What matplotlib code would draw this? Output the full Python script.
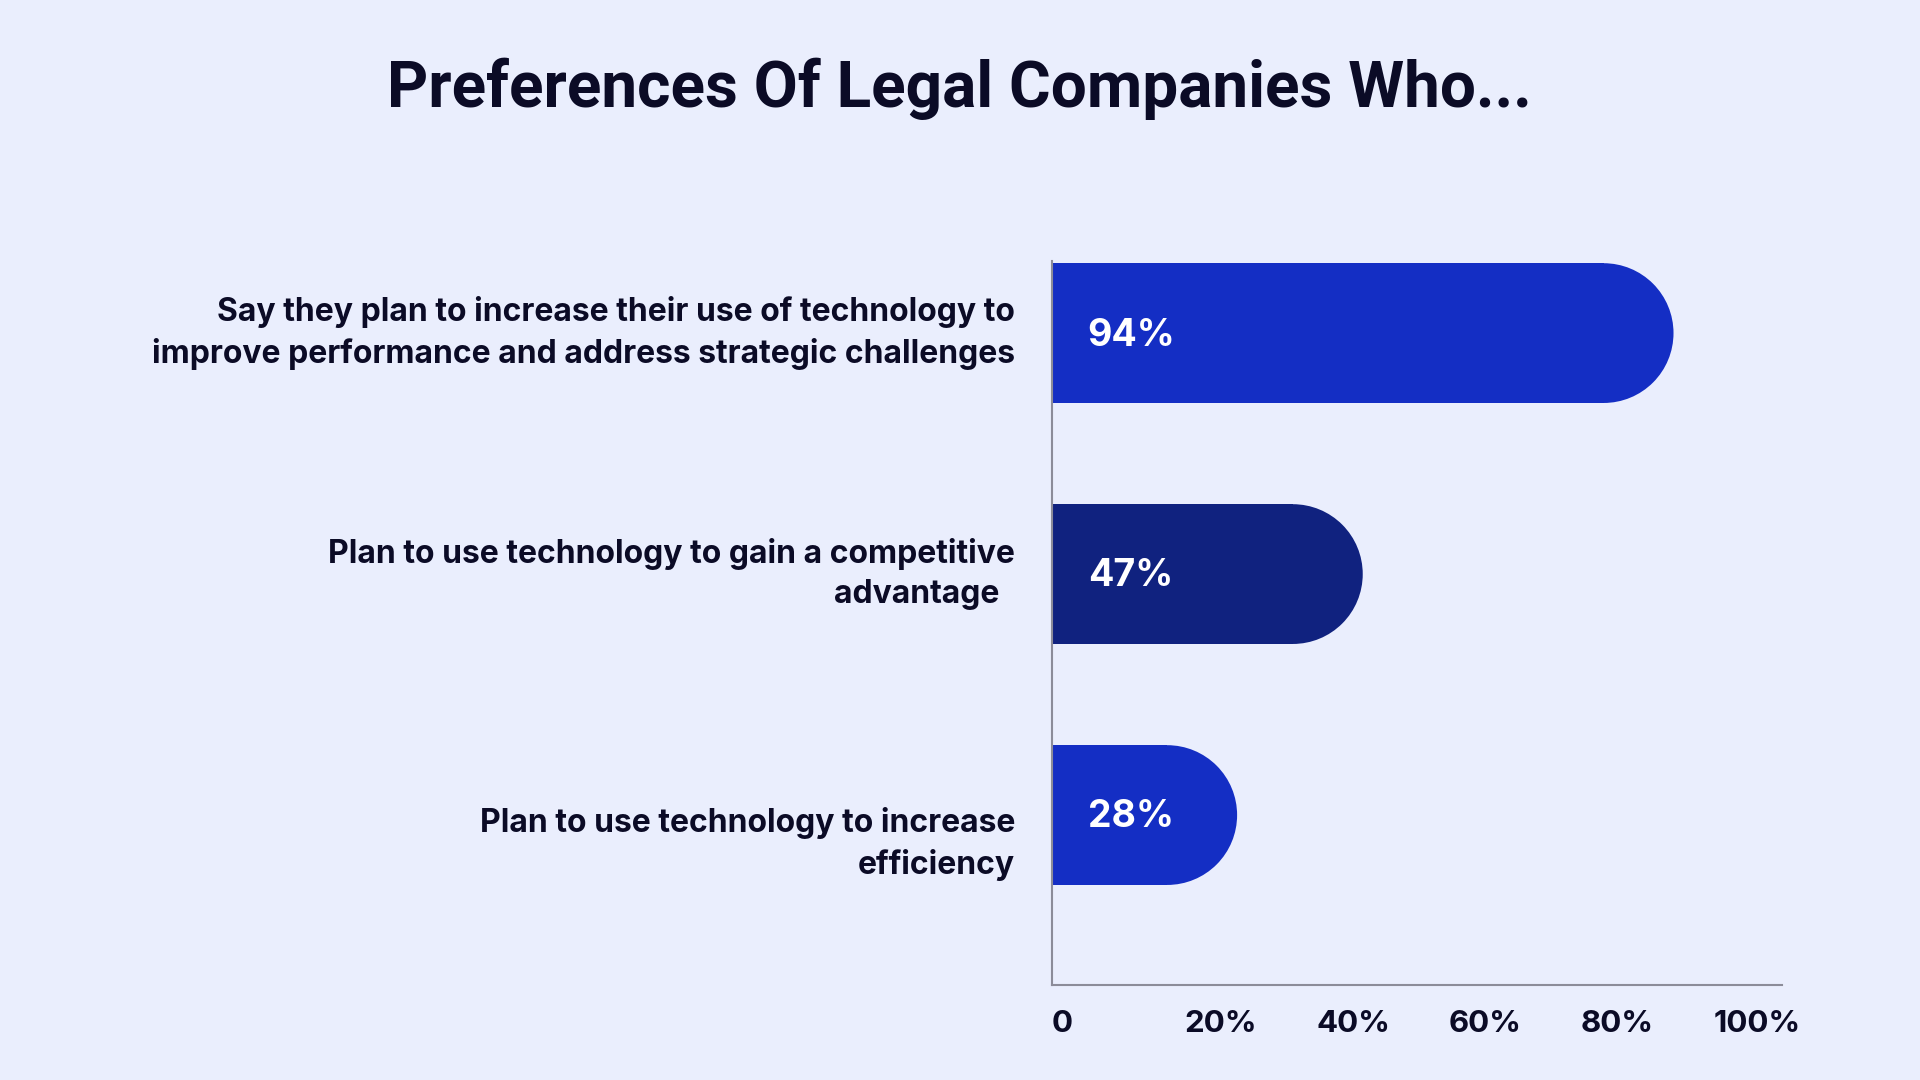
import matplotlib.pyplot as plt
from matplotlib.patches import Rectangle, Ellipse

# Data
categories = [
    "Say they plan to increase their use of technology to\nimprove performance and address strategic challenges",
    "Plan to use technology to gain a competitive\nadvantage  ",
    "Plan to use technology to increase\nefficiency",
]
values = [94, 47, 28]
value_labels = ["94%", "47%", "28%"]
tick_values = [0, 20, 40, 60, 80, 100]
tick_labels = ["0", "20%", "40%", "60%", "80%", "100%"]

# Styles
bg = "#EAEEFD"
text_color = "#0B0B26"
bar_colors = ["#142EC4", "#10227F", "#142EC4"]
label_nudge = [0.0, 0.0, 0.12]  # small vertical shift of category labels (bar units)

plt.rcParams['font.family'] = ['Inter', 'DejaVu Sans']

fig = plt.figure(figsize=(19.2, 10.8), dpi=100, facecolor=bg)
ax = fig.add_axes([0.5479, 0.0880, 0.3802, 0.6703])
ax.set_facecolor(bg)

n = len(values)
ypos = [n - 1 - i for i in range(n)]
bar_h = 0.58
xmax = 110.4
ylo, yhi = -0.705, 2.299
ax.set_xlim(0, xmax)
ax.set_ylim(ylo, yhi)

# rounded bars: flat left end, semicircle on the right
px_per_x = 730 / xmax
px_per_y = 724 / (yhi - ylo)
rx = bar_h / 2 * px_per_y / px_per_x
for y, v, c in zip(ypos, values, bar_colors):
    ax.add_patch(Rectangle((0, y - bar_h / 2), v - rx, bar_h, color=c, lw=0, zorder=2))
    ax.add_patch(Ellipse((v - rx, y), 2 * rx, bar_h, color=c, lw=0, zorder=2))

for y, lab in zip(ypos, value_labels):
    ax.text(5.4, y - 0.01, lab, color="white", fontsize=27, fontweight="bold",
            ha="left", va="center", zorder=3)

for y, cat, dy in zip(ypos, categories, label_nudge):
    ax.annotate(cat, xy=(0, y - dy), xycoords="data", xytext=(-37, 0),
                textcoords="offset pixels", ha="right", va="center",
                fontsize=23, fontweight="bold", color=text_color,
                linespacing=1.37)

ax.set_yticks([])
ax.set_xticks(tick_values)
ax.set_xticklabels(tick_labels, fontsize=22.5, fontweight="bold", color=text_color, ha="left")
ax.tick_params(axis="x", length=0, pad=18)

for s in ["top", "right"]:
    ax.spines[s].set_visible(False)
for s in ["left", "bottom"]:
    ax.spines[s].set_color("#8C8C99")
    ax.spines[s].set_linewidth(1.5)

fig.text(0.4995, 0.918, "Preferences Of Legal Companies Who...", ha="center", va="center",
         fontsize=46, fontweight="bold", color=text_color, family=["Roboto", "DejaVu Sans"])

fig.savefig("out.png", dpi=100, facecolor=bg)
